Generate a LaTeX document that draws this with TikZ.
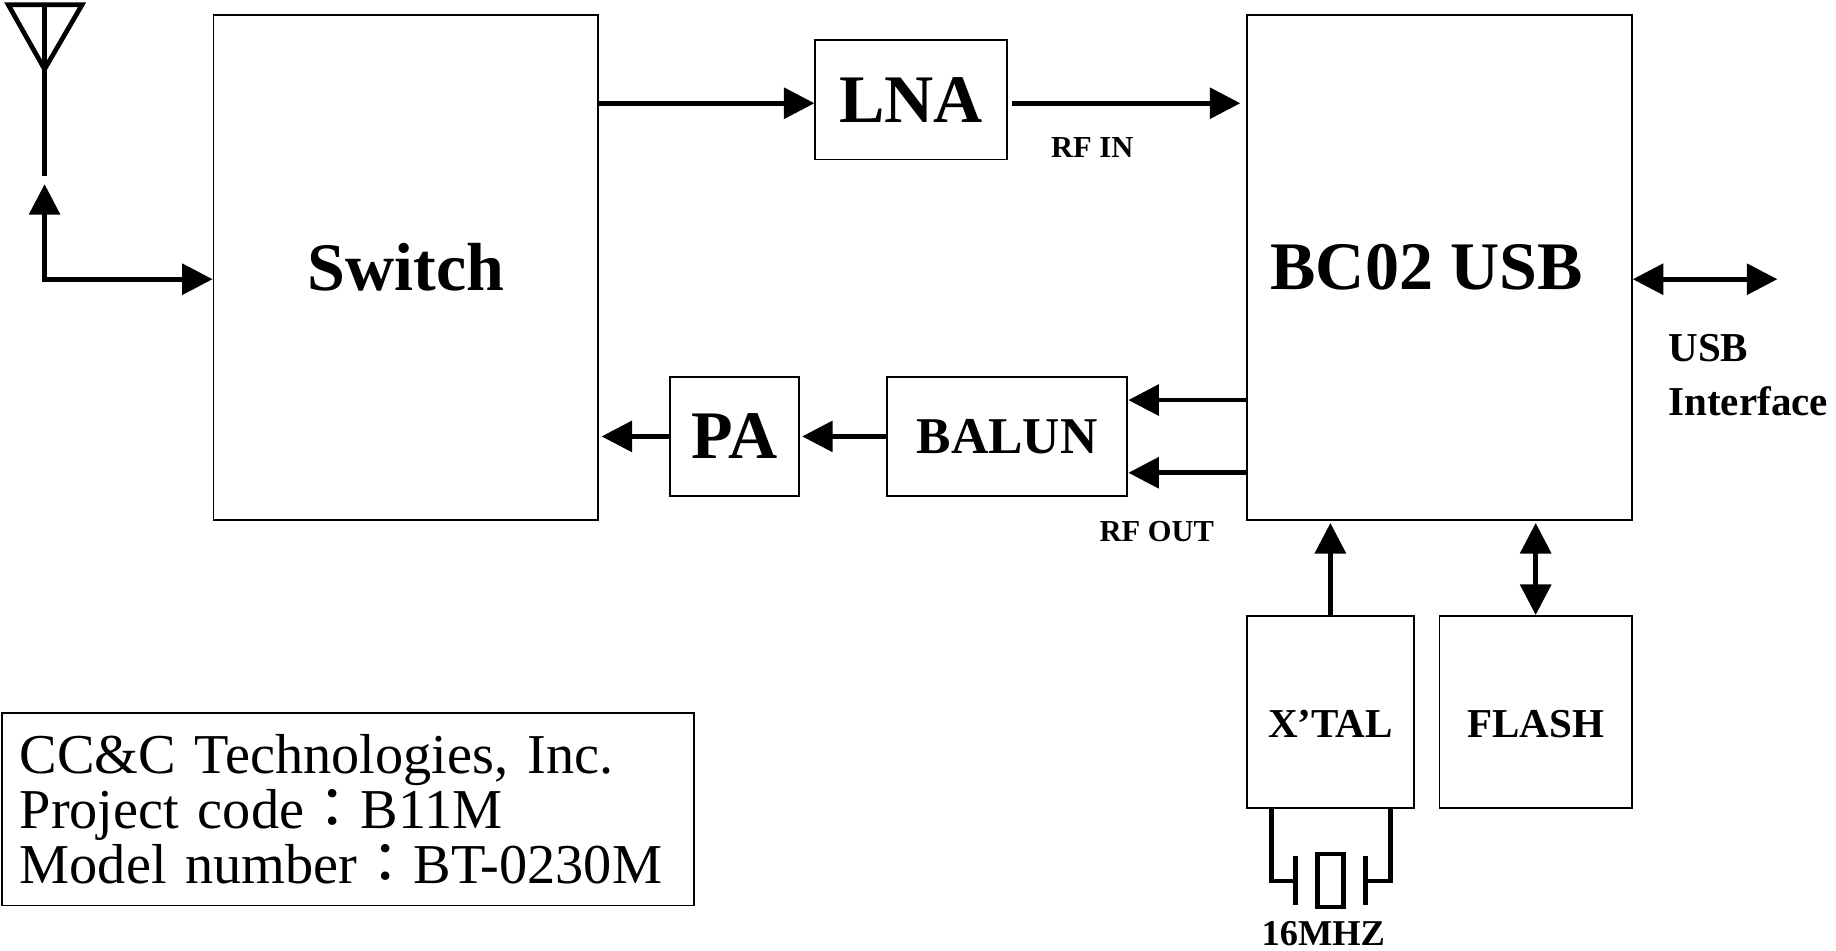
\documentclass[tikz,border=0pt]{standalone}
\usepackage{fontspec}
\setmainfont{Liberation Serif}
\newfontfamily\cjk{Noto Sans CJK TC}
\usetikzlibrary{arrows.meta,positioning,calc}
\newcommand{\fs}[2]{\fontsize{#1}{#2}\selectfont}
\tikzset{
  blk/.style={draw, line width=1.6pt, inner sep=0pt},
  arr/.style={line width=4pt, -{Triangle[length=26pt,width=26pt]}},
  dblarr/.style={line width=4pt, {Triangle[length=26pt,width=26pt]}-{Triangle[length=26pt,width=26pt]}},
  wire/.style={line width=4pt},
}

\begin{document}
\begin{tikzpicture}[x=1pt,y=-1pt]
\useasboundingbox (0,0) rectangle (1565,810);
% blocks
\node[blk,minimum width=328pt,minimum height=430pt,font=\fs{58}{60}\bfseries] (sw) at (346,228) {Switch};
\node[blk,minimum width=328pt,minimum height=430pt] (bc) at (1227,228) {};
\node[font=\fs{58}{60}\bfseries] (bctxt) at (1216,228) {BC02 USB};
\node[blk,minimum width=163pt,minimum height=102pt,font=\fs{58}{60}\bfseries] (lna) at (776.5,85) {LNA};
\node[blk,minimum width=110pt,minimum height=102pt,font=\fs{58}{60}\bfseries] (pa) at (626,372) {PA};
\node[blk,minimum width=205pt,minimum height=102pt,font=\fs{44}{46}\bfseries] (balun) at (858.5,372) {BALUN};
\node[blk,minimum width=142pt,minimum height=164pt,text height=43pt,font=\fs{35}{37}\bfseries] (xtal) at (1134,607) {X’TAL};
\node[blk,minimum width=164pt,minimum height=164pt,text height=43pt,font=\fs{35}{37}\bfseries] (flash) at (1309,607) {FLASH};
\node[blk,anchor=north west,minimum width=590pt,minimum height=164pt,text width=560pt,inner xsep=15pt,align=left,font=\fs{48}{47}] (info) at (1,607)
  {CC\&C Technologies, Inc.\\Project code{\cjk ：}B11M\\Model number{\cjk ：}BT-0230M};
% labels
\node[font=\fs{26}{28}\bfseries] (rfin) at (931,126) {RF IN};
\node[font=\fs{26}{28}\bfseries] (rfout) at (986,453) {RF OUT};
\node[font=\fs{31}{33}\bfseries] (freq) at (1128,796) {16MHZ};
\node[font=\fs{35}{46}\bfseries,align=left,anchor=north west,inner sep=0pt] (usblbl) at (1422,285) {USB\\Interface};
% antenna
\draw[wire] (7,4) -- (70,4) -- (38,59) -- cycle;
\draw[wire] (38,4) -- (38,150);
\coordinate (ant) at (38,157);
\draw[dblarr] (ant) |- ($(sw.west)+(0,10)$);
% signal paths
\draw[arr] ($(sw.east |- lna.west)+(0,3)$) -- ($(lna.west)+(0,3)$);
\draw[arr] ($(lna.east)+(4,3)$) -- ($(lna.east -| bc.west)+(-5,3)$);
\draw[arr] ($(balun.east -| bc.west)+(0,-31)$) -- ($(balun.east)+(0,-31)$);
\draw[arr] ($(balun.east -| bc.west)+(0,31)$) -- ($(balun.east)+(0,31)$);
\draw[arr,shorten >=2pt] (balun.west) -- (pa.east);
\draw[arr,shorten >=2pt] (pa.west) -- (pa.west -| sw.east);
\coordinate (usbend) at (1515,238);
\draw[dblarr] (bc.east |- usbend) -- (usbend);
\draw[arr,shorten >=2pt] (xtal.north) -- (xtal.north |- bc.south);
\draw[dblarr,shorten >=2pt] (flash.north) -- (flash.north |- bc.south);
% crystal
\draw[wire] (1084,689) |- (1104,751);
\draw[wire] (1185,689) |- (1164,751);
\draw[wire] (1104,730) -- (1104,771);
\draw[wire] (1164,730) -- (1164,771);
\draw[wire] (1123,728) rectangle (1145,773);
\end{tikzpicture}
\end{document}
